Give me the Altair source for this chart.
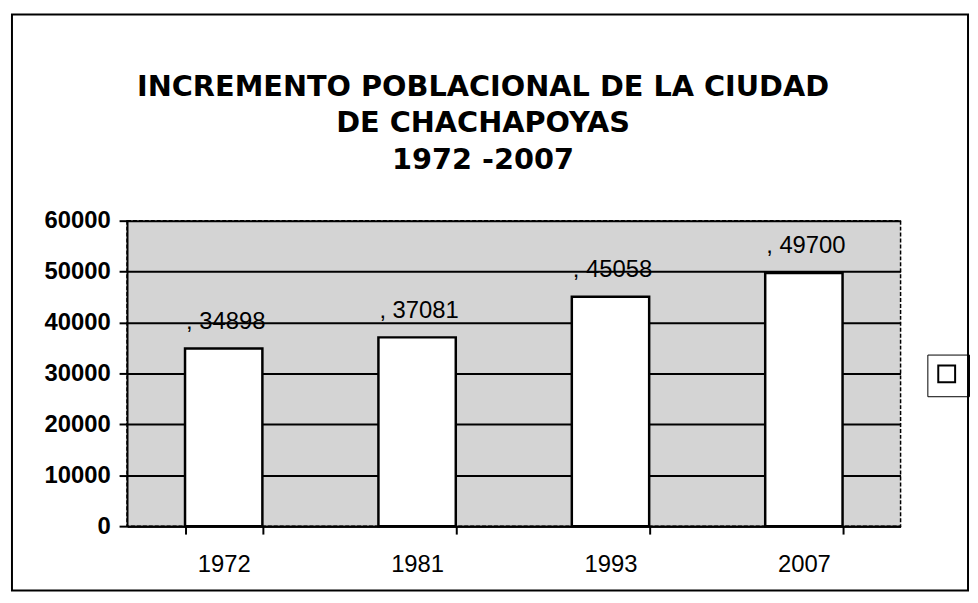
import altair as alt
import pandas as pd

years = ["1972", "1981", "1993", "2007"]
population = [34898, 37081, 45058, 49700]
y_ticks = [0, 10000, 20000, 30000, 40000, 50000, 60000]
title_lines = ["INCREMENTO POBLACIONAL DE  LA CIUDAD", "DE CHACHAPOYAS", "1972 -2007"]

df = pd.DataFrame({"year": years, "value": population, "serie": [" "] * len(years)})

PLOT_W, PLOT_H = 780, 308

x_enc = alt.X(
    "year:N",
    sort=years,
    scale=alt.Scale(paddingInner=0.6, paddingOuter=0.3),
    axis=alt.Axis(
        title=None, labelAngle=0, labelFont="Liberation Sans", labelFontSize=24,
        labelColor="black", labelPadding=19, tickBand="extent", tickSize=8,
        tickColor="black", tickWidth=2, domainColor="black", domainWidth=2, grid=False,
    ),
)
y_enc = alt.Y(
    "value:Q",
    scale=alt.Scale(domain=[0, 60000], nice=False),
    axis=alt.Axis(
        title=None, values=y_ticks, format="d", labelFont="Liberation Sans",
        labelFontSize=24, labelFontWeight="bold", labelColor="black", labelPadding=9,
        tickSize=8, tickColor="black", tickWidth=2, domainColor="black", domainWidth=2,
        grid=True, gridColor="black", gridWidth=2, gridOpacity=1,
    ),
)

base = alt.Chart(df)

bars = base.mark_bar(stroke="black", strokeWidth=2.5, opacity=1).encode(
    x=x_enc,
    y=y_enc,
    color=alt.Color(
        "serie:N",
        scale=alt.Scale(range=["white"]),
        legend=alt.Legend(
            title=None, orient="none", legendX=807, legendY=135, labelExpr="''",
            labelOffset=0, symbolType="square", symbolSize=289, symbolStrokeColor="black",
            symbolStrokeWidth=2, strokeColor="black", padding=10, labelFontSize=1,
        ),
    ),
)

labels = base.transform_calculate(lbl="', ' + datum.value").mark_text(
    font="Liberation Sans", fontSize=24, color="black", baseline="alphabetic", dy=-20, dx=2
).encode(x=alt.X("year:N", sort=years), y="value:Q", text="lbl:N")

title = alt.Chart(pd.DataFrame({"t": [0]})).mark_text(
    font="DejaVu Sans", fontSize=29, fontWeight="bold", color="black",
    align="center", baseline="alphabetic", lineHeight=37,
).encode(x=alt.value(359), y=alt.value(-126), text=alt.value(title_lines))

frame = alt.Chart(pd.DataFrame({"f": [0]})).mark_rect(
    fill=None, stroke="black", strokeWidth=2
).encode(
    x=alt.value(-116), x2=alt.value(848), y=alt.value(-208), y2=alt.value(373)
)

chart = alt.layer(bars, labels, title, frame).properties(
    width=PLOT_W,
    height=PLOT_H,
    autosize=alt.AutoSizeParams(type="none"),
    padding={"left": 120, "top": 212, "right": 70, "bottom": 70},
    background="white",
).configure_view(
    fill="#d4d4d4", stroke="black", strokeWidth=1.5, strokeDash=[4, 2]
)

chart.save("out.html", embed_options={"renderer": "svg", "actions": False})
